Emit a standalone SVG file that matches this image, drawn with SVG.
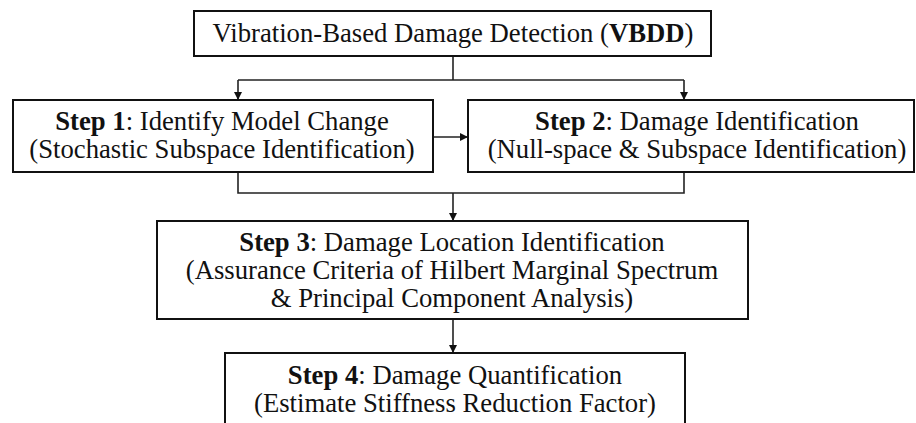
<svg xmlns="http://www.w3.org/2000/svg" width="916" height="423" viewBox="0 0 916 423">
<style>
.box{fill:#fff;stroke:#111;stroke-width:2}
.t{font-family:'Liberation Serif','Times New Roman',serif;font-size:26.7px;fill:#111;text-anchor:middle}
.b{font-weight:bold}
.c{fill:none;stroke:#222;stroke-width:1.6}
</style>
<defs>
<marker id="ah" viewBox="0 0 10 10" refX="10" refY="5" markerWidth="8" markerHeight="8" markerUnits="userSpaceOnUse" orient="auto">
<path d="M0,0 L10,5 L0,10 z" fill="#111"/>
</marker>
</defs>
<rect width="916" height="423" fill="#fff"/>
<g id="connectors">
<path class="c" d="M453,56 V80"/>
<path class="c" d="M238,80 H684"/>
<path class="c" d="M238,80 V100" marker-end="url(#ah)"/>
<path class="c" d="M684,80 V100" marker-end="url(#ah)"/>
<path class="c" d="M433,137 H468" marker-end="url(#ah)"/>
<path class="c" d="M238,172 V193 H684 V172"/>
<path class="c" d="M453,193 V221" marker-end="url(#ah)"/>
<path class="c" d="M453,319 V353" marker-end="url(#ah)"/>
</g>
<g id="vbdd">
<rect class="box" x="194" y="11" width="517" height="45"/>
<text class="t" x="453" y="42">Vibration-Based Damage Detection (<tspan class="b">VBDD</tspan>)</text>
</g>
<g id="step1">
<rect class="box" x="13" y="100" width="420" height="72"/>
<text class="t" x="222" y="130"><tspan class="b">Step 1</tspan>: Identify Model Change</text>
<text class="t" x="222" y="158">(Stochastic Subspace Identification)</text>
</g>
<g id="step2">
<rect class="box" x="468" y="100" width="446" height="72"/>
<text class="t" x="697" y="130"><tspan class="b">Step 2</tspan>: Damage Identification</text>
<text class="t" x="697" y="158">(Null-space &amp; Subspace Identification)</text>
</g>
<g id="step3">
<rect class="box" x="157" y="221" width="591" height="98"/>
<text class="t" x="452" y="251"><tspan class="b">Step 3</tspan>: Damage Location Identification</text>
<text class="t" x="452" y="279">(Assurance Criteria of Hilbert Marginal Spectrum</text>
<text class="t" x="452" y="307">&amp; Principal Component Analysis)</text>
</g>
<g id="step4">
<rect class="box" x="225" y="353" width="460" height="80"/>
<text class="t" x="455" y="384"><tspan class="b">Step 4</tspan>: Damage Quantification</text>
<text class="t" x="455" y="412">(Estimate Stiffness Reduction Factor)</text>
</g>
</svg>
